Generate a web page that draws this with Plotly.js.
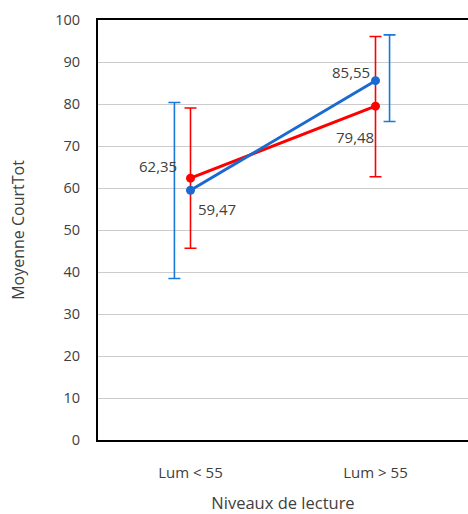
<!DOCTYPE html>
<html>
<head>
<meta charset="utf-8">
<script src="https://cdn.plot.ly/plotly-3.0.1.min.js"></script>
<style>html,body{margin:0;padding:0;background:#fff;}#chart{width:468px;height:514px;}</style>
</head>
<body>
<div id="chart"></div>
<script>
// Data
var categories = ["Lum < 55", "Lum > 55"];
var redValues = [62.35, 79.48];
var redErrPlus = [16.7, 16.6];
var redErrMinus = [16.7, 16.8];
var blueValues = [59.47, 85.55];
var blueErrPlus = [20.9, 10.9];
var blueErrMinus = [21.0, 9.7];
var redLabels = ["62,35", "79,48"];
var blueLabels = ["59,47", "85,55"];
var yTicks = [0, 10, 20, 30, 40, 50, 60, 70, 80, 90, 100];

// Styles
var RED = "#ff0000";
var BLUE = "#1a6ad0";
var BLUE_ERR = "#1a78d8";
var TEXT = "#404040";
var FONT = "Open Sans, sans-serif";
var blueErrOffset = [-0.087, 0.076]; // horizontal displacement of blue error bars (axis units)

var idx = categories.map(function (c, i) { return i; });

var redErr = {
  x: idx, y: redValues, type: "scatter", mode: "markers",
  marker: {size: 1, color: "rgba(0,0,0,0)"},
  error_y: {type: "data", symmetric: false, array: redErrPlus, arrayminus: redErrMinus,
            color: RED, thickness: 1.6, width: 6},
  hoverinfo: "skip"
};
var blueErr = {
  x: idx.map(function (v, i) { return v + blueErrOffset[i]; }), y: blueValues,
  type: "scatter", mode: "markers",
  marker: {size: 1, color: "rgba(0,0,0,0)"},
  error_y: {type: "data", symmetric: false, array: blueErrPlus, arrayminus: blueErrMinus,
            color: BLUE_ERR, thickness: 1.6, width: 6},
  hoverinfo: "skip"
};
var redLine = {
  x: idx, y: redValues, type: "scatter", mode: "lines+markers",
  line: {color: RED, width: 3}, marker: {color: RED, size: 9}
};
var blueLine = {
  x: idx, y: blueValues, type: "scatter", mode: "lines+markers",
  line: {color: BLUE, width: 3}, marker: {color: BLUE, size: 9}
};

var annFont = {family: FONT, size: 15, color: TEXT};
var annotations = [
  {x: idx[0], y: redValues[0], text: redLabels[0], xshift: -33, yshift: 12},
  {x: idx[1], y: redValues[1], text: redLabels[1], xshift: -21, yshift: -31},
  {x: idx[0], y: blueValues[0], text: blueLabels[0], xshift: 26, yshift: -19},
  {x: idx[1], y: blueValues[1], text: blueLabels[1], xshift: -25, yshift: 9}
].map(function (a) {
  a.xref = "x"; a.yref = "y"; a.showarrow = false; a.font = annFont;
  return a;
});

var layout = {
  width: 468, height: 514,
  margin: {l: 98, r: 0, t: 20, b: 74, pad: 0},
  paper_bgcolor: "#fff", plot_bgcolor: "#fff",
  showlegend: false, hovermode: false,
  font: {family: FONT, color: TEXT, size: 14},
  xaxis: {
    range: [-0.5, 1.5], tickvals: idx, ticktext: categories,
    showgrid: false, zeroline: false,
    showline: true, linecolor: "#000", linewidth: 2, mirror: true,
    ticks: "", ticklabelstandoff: 18,
    tickfont: {family: FONT, size: 15, color: TEXT},
    title: {text: "Niveaux de lecture", font: {family: FONT, size: 16.5, color: TEXT}, standoff: 19}
  },
  yaxis: {
    range: [0, 100], tickvals: yTicks,
    showgrid: true, gridcolor: "#cccccc", gridwidth: 1,
    zeroline: false, showline: true, linecolor: "#000", linewidth: 2,
    ticks: "", ticklabelstandoff: 13,
    tickfont: {family: FONT, size: 14.5, color: TEXT},
    title: {text: "Moyenne CourtTot", font: {family: FONT, size: 16, color: TEXT}, standoff: 27}
  },
  annotations: annotations
};

Plotly.newPlot("chart", [redErr, blueErr, redLine, blueLine], layout, {displayModeBar: false, staticPlot: true});
</script>
</body>
</html>
